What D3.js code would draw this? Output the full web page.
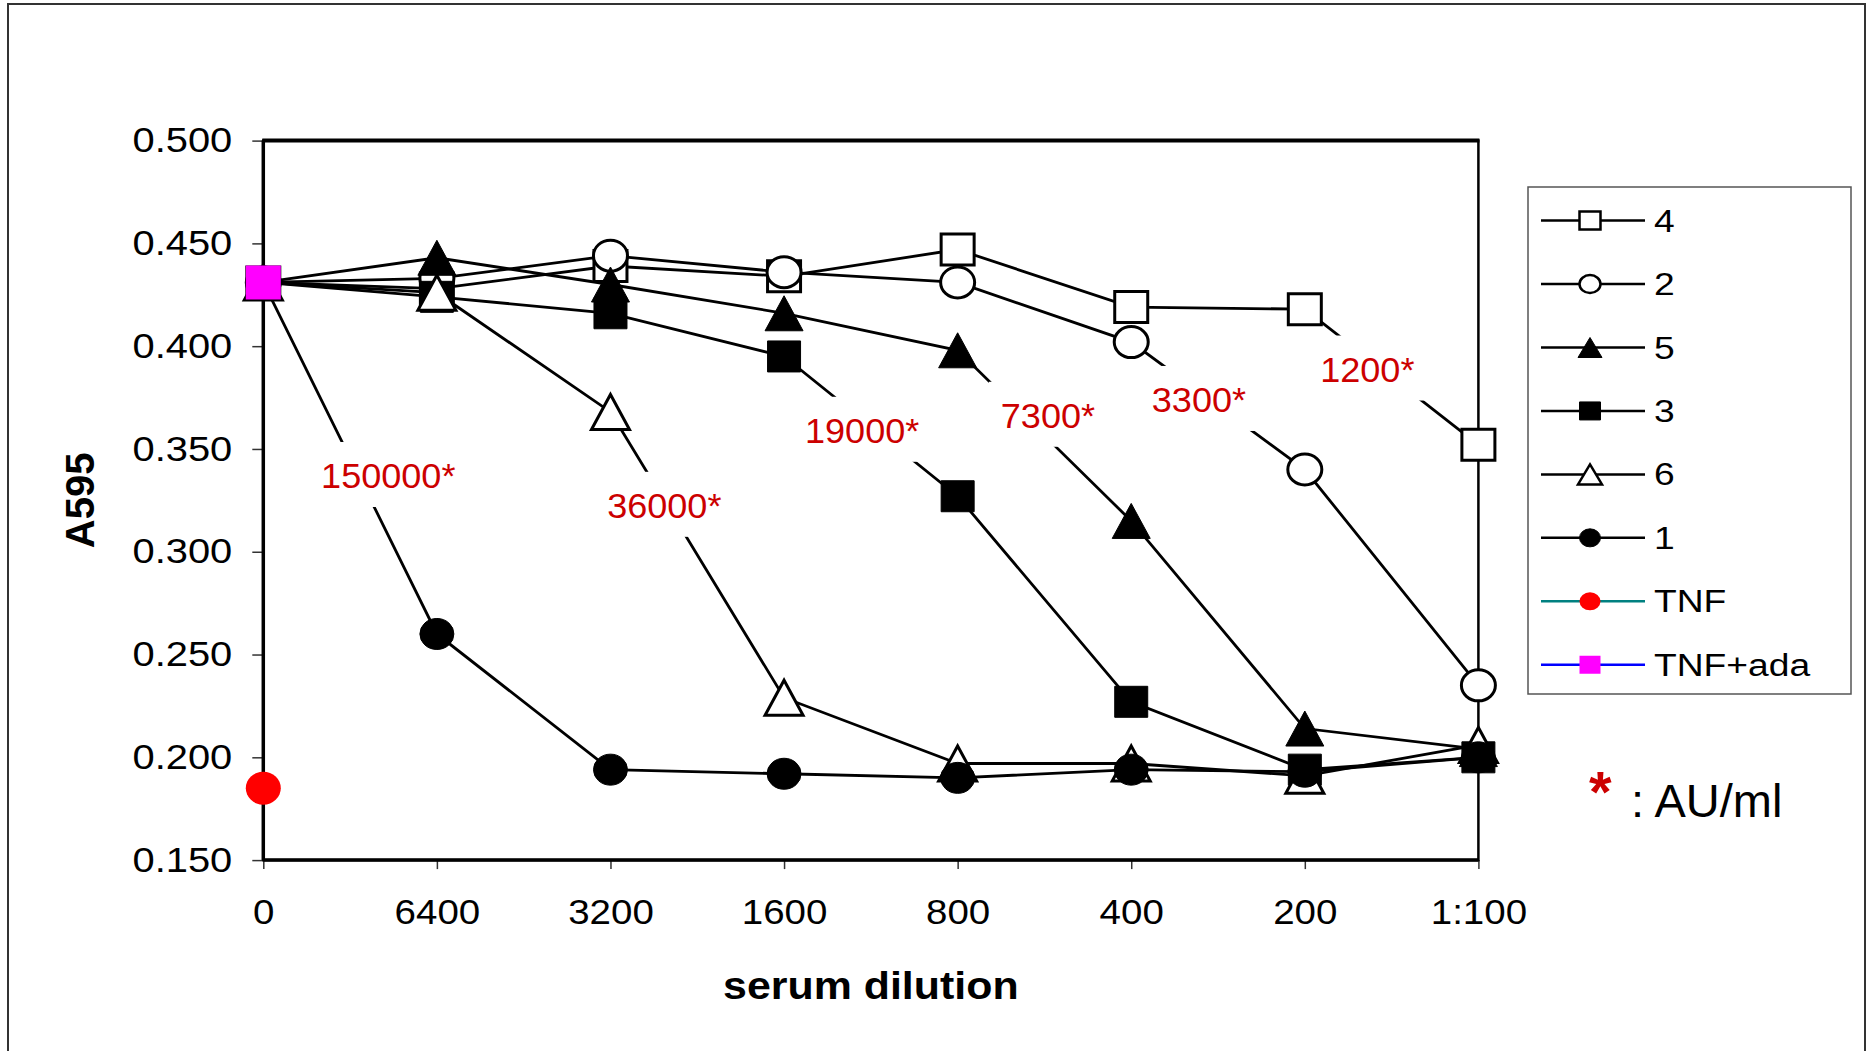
<!DOCTYPE html>
<meta charset="utf-8">
<head>
  <title>A595 vs serum dilution</title>
  <script src="https://cdn.jsdelivr.net/npm/d3@7"></script>
  <style>
    body {margin: 0; background: #fff;}
    text {font-family: "Liberation Sans", Arial, sans-serif;}
  </style>
</head>
<body>
<div id="chart"></div>
<script>
// data
var dilutions = ["0", "6400", "3200", "1600", "800", "400", "200", "1:100"];
var serum4 = [0.431, 0.428, 0.439, 0.434, 0.447, 0.419, 0.418, 0.352];
var serum2 = [0.431, 0.433, 0.444, 0.436, 0.431, 0.402, 0.340, 0.235];
var serum5 = [0.431, 0.443, 0.430, 0.416, 0.398, 0.315, 0.214, 0.204];
var serum3 = [0.431, 0.424, 0.416, 0.395, 0.327, 0.227, 0.194, 0.200];
var serum6 = [0.431, 0.426, 0.368, 0.229, 0.197, 0.197, 0.191, 0.206];
var serum1 = [0.431, 0.260, 0.194, 0.192, 0.190, 0.194, 0.193, 0.200];
var tnf = [0.185];
var tnfAda = [0.431];
var yTicks = [0.150, 0.200, 0.250, 0.300, 0.350, 0.400, 0.450, 0.500];
var legendNames = ["4", "2", "5", "3", "6", "1", "TNF", "TNF+ada"];
// AU/ml labels: text, position as (fractional dilution index, A595)
var auText = ["150000*", "36000*", "19000*", "7300*", "3300*", "1200*"];
var auIndex = [0.72, 2.31, 3.45, 4.52, 5.39, 6.36];
var auValue = [0.331, 0.3165, 0.353, 0.3603, 0.368, 0.3828];

var W = 1868, H = 1051;
var plot = {left: 263.3, right: 1478.4, top: 140.6, bottom: 860.1};

var svg = d3.select("#chart").append("svg")
    .attr("width", W).attr("height", H);

// outer frame
svg.append("rect")
    .attr("x", 8).attr("y", 4).attr("width", 1857).attr("height", 1100)
    .attr("fill", "none").attr("stroke", "#333").attr("stroke-width", 2);

var x = d3.scalePoint().domain(dilutions).range([plot.left, plot.right]);
var xi = d3.scaleLinear().domain([0, dilutions.length - 1]).range([plot.left, plot.right]);
var y = d3.scaleLinear().domain([0.15, 0.5]).range([plot.bottom, plot.top]);

// widen text a bit, the original is horizontally stretched
function stretch(sel, k) {
  sel.each(function() {
    var w = this.getComputedTextLength();
    d3.select(this).attr("textLength", w * k).attr("lengthAdjust", "spacingAndGlyphs");
  });
}

// axes
var yAxis = svg.append("g")
    .attr("transform", "translate(" + plot.left + ",0)")
    .call(d3.axisLeft(y).tickValues(yTicks).tickFormat(d3.format(".3f")).tickSize(11).tickPadding(20));
var xAxis = svg.append("g")
    .attr("transform", "translate(0," + plot.bottom + ")")
    .call(d3.axisBottom(x).tickSize(9).tickPadding(30));
[yAxis, xAxis].forEach(function(g) {
  g.select(".domain").remove();
  g.selectAll(".tick line").attr("stroke", "#333").attr("stroke-width", 1.5);
  g.selectAll("text").attr("fill", "#000").style("font-size", "35px")
      .style("font-family", '"Liberation Sans", Arial, sans-serif');
});
stretch(yAxis.selectAll("text"), 1.14);
stretch(xAxis.selectAll("text"), 1.1);

// plot border
svg.append("rect")
    .attr("x", plot.left).attr("y", plot.top)
    .attr("width", plot.right - plot.left).attr("height", plot.bottom - plot.top)
    .attr("fill", "none").attr("stroke", "#000").attr("stroke-width", 2.5);
svg.append("line").attr("x1", plot.left - 1).attr("x2", plot.right + 1)
    .attr("y1", plot.top).attr("y2", plot.top)
    .attr("stroke", "#000").attr("stroke-width", 4);
svg.append("line").attr("x1", plot.left).attr("x2", plot.left)
    .attr("y1", plot.top).attr("y2", plot.bottom)
    .attr("stroke", "#000").attr("stroke-width", 3.5);
svg.append("line").attr("x1", plot.left).attr("x2", plot.right)
    .attr("y1", plot.bottom).attr("y2", plot.bottom)
    .attr("stroke", "#000").attr("stroke-width", 3.5);

// axis titles
var xTitle = svg.append("text")
    .attr("x", (plot.left + plot.right) / 2).attr("y", 999)
    .attr("text-anchor", "middle")
    .style("font-size", "39px").style("font-weight", "bold")
    .text("serum dilution");
stretch(xTitle, 1.1);
svg.append("text")
    .attr("transform", "translate(94," + ((plot.top + plot.bottom) / 2) + ") rotate(-90)")
    .attr("text-anchor", "middle")
    .style("font-size", "40px").style("font-weight", "bold")
    .text("A595");

// marker shapes, w x h box centred on the point
function markerPath(shape, w, h) {
  var a = w / 2, b = h / 2;
  if (shape == "square") return "M" + (-a) + "," + (-b) + "H" + a + "V" + b + "H" + (-a) + "Z";
  if (shape == "triangle") return "M0," + (-b) + "L" + a + "," + b + "H" + (-a) + "Z";
  // ellipse
  return "M" + (-a) + ",0A" + a + "," + b + " 0 1,0 " + a + ",0A" + a + "," + b + " 0 1,0 " + (-a) + ",0Z";
}
var markerSize = {square: [33, 31], circle: [34, 31], triangle: [38, 35]};
var legendSize = {square: [21, 18], circle: [21, 18], triangle: [24, 20]};

var series = [
  {name: "4", values: serum4, shape: "square", filled: false},
  {name: "2", values: serum2, shape: "circle", filled: false},
  {name: "5", values: serum5, shape: "triangle", filled: true},
  {name: "3", values: serum3, shape: "square", filled: true},
  {name: "6", values: serum6, shape: "triangle", filled: false},
  {name: "1", values: serum1, shape: "circle", filled: true}
];

var line = d3.line()
    .x(function(d, i) { return x(dilutions[i]); })
    .y(function(d) { return y(d); });

var linesG = svg.append("g");
series.forEach(function(s) {
  linesG.append("path")
      .attr("d", line(s.values))
      .attr("fill", "none").attr("stroke", "#000").attr("stroke-width", 2.8);
});

// AU/ml labels with white boxes that cut the lines
var labelG = svg.append("g");
auText.forEach(function(t, i) {
  var g = labelG.append("g");
  var bg = g.append("rect").attr("fill", "#fff");
  var txt = g.append("text")
      .attr("x", xi(auIndex[i])).attr("y", y(auValue[i]))
      .attr("text-anchor", "middle")
      .attr("fill", "#cc0000")
      .style("font-size", "35px")
      .text(t);
  stretch(txt, 1.03);
  var bb = txt.node().getBBox();
  bg.attr("x", bb.x - 12).attr("y", bb.y - 14)
    .attr("width", bb.width + 24).attr("height", bb.height + 26);
});

// markers, drawn series by series
series.forEach(function(s) {
  var sz = markerSize[s.shape];
  svg.append("g").selectAll("path")
      .data(s.values)
      .enter().append("path")
      .attr("transform", function(d, i) { return "translate(" + x(dilutions[i]) + "," + y(d) + ")"; })
      .attr("d", markerPath(s.shape, sz[0], sz[1]))
      .attr("fill", s.filled ? "#000" : "#fff")
      .attr("stroke", "#000").attr("stroke-width", s.filled ? 1 : 3);
});

// controls
svg.append("g").selectAll("path")
    .data(tnf).enter().append("path")
    .attr("transform", function(d, i) { return "translate(" + x(dilutions[i]) + "," + y(d) + ")"; })
    .attr("d", markerPath("circle", 35, 33))
    .attr("fill", "#ff0000");
svg.append("g").selectAll("path")
    .data(tnfAda).enter().append("path")
    .attr("transform", function(d, i) { return "translate(" + x(dilutions[i]) + "," + y(d) + ")"; })
    .attr("d", markerPath("square", 35, 34))
    .attr("fill", "#ff00ff");

// legend
var legendStyle = series.map(function(s) { return {shape: s.shape, filled: s.filled, fill: s.filled ? "#000" : "#fff", line: "#000"}; })
    .concat([{shape: "circle", fill: "#ff0000", line: "#008080", filled: true, plain: true},
             {shape: "square", fill: "#ff00ff", line: "#0000ff", filled: true, plain: true}]);

var legend = svg.append("g");
legend.append("rect")
    .attr("x", 1528).attr("y", 187).attr("width", 323).attr("height", 507)
    .attr("fill", "#fff").attr("stroke", "#555").attr("stroke-width", 1.5);

var rows = legend.selectAll(".row")
    .data(legendNames)
    .enter().append("g")
    .attr("class", "row")
    .attr("transform", function(d, i) { return "translate(0," + (220.6 + i * 63.45) + ")"; });

rows.append("line")
    .attr("x1", 1541).attr("x2", 1645)
    .attr("stroke", function(d, i) { return legendStyle[i].line; })
    .attr("stroke-width", 2.5);
rows.append("path")
    .attr("transform", "translate(1590,0)")
    .attr("d", function(d, i) { var z = legendSize[legendStyle[i].shape]; return markerPath(legendStyle[i].shape, z[0], z[1]); })
    .attr("fill", function(d, i) { return legendStyle[i].fill; })
    .attr("stroke", function(d, i) { return legendStyle[i].plain ? "none" : "#000"; })
    .attr("stroke-width", function(d, i) { return legendStyle[i].filled ? 1 : 2.5; });
var legendText = rows.append("text")
    .attr("x", 1654).attr("y", 11)
    .style("font-size", "31px")
    .text(function(d) { return d; });
stretch(legendText, 1.2);

// AU/ml note
svg.append("text")
    .attr("x", 1589).attr("y", 812)
    .attr("fill", "#cc0000")
    .style("font-size", "58px").style("font-weight", "bold")
    .text("*");
svg.append("text")
    .attr("x", 1631).attr("y", 817)
    .style("font-size", "47px")
    .text(": AU/ml");
</script>
</body>
</html>
